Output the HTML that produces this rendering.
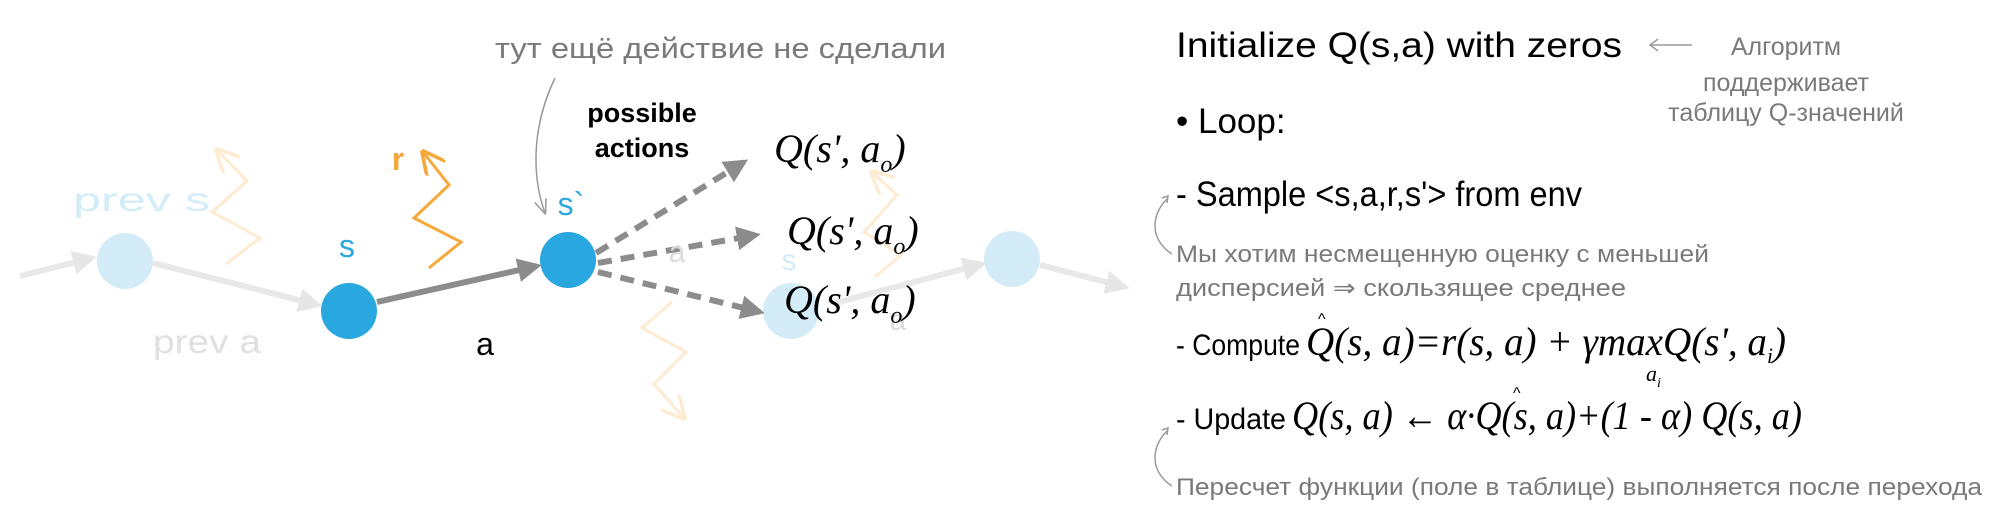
<!DOCTYPE html>
<html><head><meta charset="utf-8"><style>
html,body{margin:0;padding:0;background:#fff;}
svg{display:block;}
.sans{font-family:"Liberation Sans","DejaVu Sans",sans-serif;}
.m{font-family:"Liberation Serif",serif;font-style:italic;}
</style></head><body>
<svg width="2000" height="508" viewBox="0 0 2000 508" xmlns="http://www.w3.org/2000/svg">
<defs>
<marker id="ag" viewBox="0 0 10 10" refX="8" refY="5" markerWidth="4" markerHeight="4" orient="auto"><path d="M0,0 L10,5 L0,10 z" fill="#8c8c8c"/></marker>
<marker id="al" viewBox="0 0 10 10" refX="8" refY="5" markerWidth="4" markerHeight="4" orient="auto"><path d="M0,0 L10,5 L0,10 z" fill="#e6e6e6"/></marker>
<marker id="ao" viewBox="0 0 10 10" refX="9" refY="5" markerWidth="8" markerHeight="8" orient="auto"><path d="M0,0 L10,5 L0,10" fill="none" stroke="#f6a93b" stroke-width="1.5"/></marker>
<marker id="af" viewBox="0 0 10 10" refX="9" refY="5" markerWidth="8" markerHeight="8" orient="auto"><path d="M0,0 L10,5 L0,10" fill="none" stroke="#fdebd2" stroke-width="1.5"/></marker>
<marker id="at" viewBox="0 0 10 10" refX="9" refY="5" markerWidth="10" markerHeight="10" orient="auto"><path d="M0,1 L10,5 L0,9" fill="none" stroke="#999" stroke-width="1"/></marker>
</defs>

<g stroke="#e8e8e8" stroke-width="6" fill="none">
<line x1="20" y1="276" x2="92" y2="258" marker-end="url(#al)"/>
<line x1="153" y1="263" x2="318" y2="305" marker-end="url(#al)"/>
<line x1="835" y1="303" x2="982" y2="264" marker-end="url(#al)"/>
<line x1="1040" y1="265" x2="1125" y2="287" marker-end="url(#al)"/>
</g>

<g fill="none" stroke="#fdebd2" stroke-width="3">
<polyline points="226,264 260,238 212,212 247,181 217,150" marker-end="url(#af)"/>
<polyline points="672,302 642,328 686,352 654,384 684,418" marker-end="url(#af)"/>
<polyline points="875,277 901,255 864,232 897,195 872,172" marker-end="url(#af)"/>
</g>
<polyline points="429,268 461,242 414,218 449,185 423,152" fill="none" stroke="#f6a93b" stroke-width="3" marker-end="url(#ao)"/>

<circle cx="125" cy="261" r="28" fill="#d4ecf8"/>
<circle cx="791" cy="311" r="28" fill="#d4ecf8"/>
<circle cx="1012" cy="259" r="28" fill="#d4ecf8"/>
<circle cx="349" cy="311" r="28" fill="#29a8e0"/>
<circle cx="568" cy="260" r="28" fill="#29a8e0"/>

<line x1="377" y1="302" x2="537" y2="266" stroke="#8c8c8c" stroke-width="6" marker-end="url(#ag)"/>
<g stroke="#8c8c8c" stroke-width="6" fill="none" stroke-dasharray="14,9">
<line x1="596" y1="253" x2="744" y2="162" marker-end="url(#ag)"/>
<line x1="598" y1="263" x2="756" y2="235" marker-end="url(#ag)"/>
<line x1="598" y1="272" x2="760" y2="312" marker-end="url(#ag)"/>
</g>

<path d="M555,78 C530,130 533,180 545,213" fill="none" stroke="#999" stroke-width="1.5" marker-end="url(#at)"/>

<text class="sans" x="495" y="58" font-size="29" fill="#7a7a7a" textLength="451" lengthAdjust="spacingAndGlyphs">тут ещё действие не сделали</text>
<text class="sans" x="642" y="122" font-size="27" font-weight="bold" fill="#000" text-anchor="middle">possible</text>
<text class="sans" x="642" y="157" font-size="27" font-weight="bold" fill="#000" text-anchor="middle">actions</text>
<text class="sans" x="73" y="211" font-size="33" fill="#d4ecf8" textLength="137" lengthAdjust="spacingAndGlyphs">prev s</text>
<text class="sans" x="153" y="353" font-size="33" fill="#e0e0e0" textLength="108" lengthAdjust="spacingAndGlyphs">prev a</text>
<text class="sans" x="347" y="257" font-size="32" fill="#29a8e0" text-anchor="middle">s</text>
<text class="sans" x="571" y="215" font-size="32" fill="#29a8e0" text-anchor="middle">s`</text>
<text class="sans" x="398" y="170" font-size="32" font-weight="bold" fill="#f6a93b" text-anchor="middle">r</text>
<text class="sans" x="485" y="355" font-size="32" fill="#000" text-anchor="middle">a</text>
<text class="sans" x="677" y="262" font-size="30" fill="#dcdcdc" text-anchor="middle">a</text>
<text class="sans" x="789" y="270" font-size="30" fill="#d4ecf8" text-anchor="middle">s</text>
<text class="sans" x="898" y="330" font-size="30" fill="#dcdcdc" text-anchor="middle">a</text>

<text class="m" x="774" y="162" font-size="40" fill="#000">Q(s', a<tspan font-size="24" dy="10">o</tspan><tspan dy="-10">)</tspan></text>
<text class="m" x="787" y="244" font-size="40" fill="#000">Q(s', a<tspan font-size="24" dy="10">o</tspan><tspan dy="-10">)</tspan></text>
<text class="m" x="784" y="313" font-size="40" fill="#000">Q(s', a<tspan font-size="24" dy="10">o</tspan><tspan dy="-10">)</tspan></text>

<text class="sans" x="1176" y="57" font-size="35" fill="#000" textLength="446" lengthAdjust="spacingAndGlyphs">Initialize Q(s,a) with zeros</text>
<line x1="1692" y1="45" x2="1650" y2="45" stroke="#999" stroke-width="1.5"/>
<path d="M1658,39 L1650,45 L1658,51" fill="none" stroke="#999" stroke-width="1.5"/>
<g class="sans" font-size="25" fill="#7a7a7a" text-anchor="middle">
<text x="1786" y="55">Алгоритм</text>
<text x="1786" y="91">поддерживает</text>
<text x="1786" y="121">таблицу Q-значений</text>
</g>
<text class="sans" x="1176" y="133" font-size="35" fill="#000">• Loop:</text>
<text class="sans" x="1176" y="206" font-size="35" fill="#000" textLength="406" lengthAdjust="spacingAndGlyphs">- Sample &lt;s,a,r,s'&gt; from env</text>
<path d="M1168,198 C1150,215 1150,240 1172,254" fill="none" stroke="#999" stroke-width="1.5"/>
<path d="M1162,198 L1168,196 L1167,203" fill="none" stroke="#999" stroke-width="1.5"/>
<text class="sans" x="1176" y="262" font-size="24" fill="#7a7a7a" textLength="533" lengthAdjust="spacingAndGlyphs">Мы хотим несмещенную оценку с меньшей</text>
<text class="sans" x="1176" y="296" font-size="24" fill="#7a7a7a" textLength="450" lengthAdjust="spacingAndGlyphs">дисперсией ⇒ скользящее среднее</text>

<text class="sans" x="1176" y="355" font-size="30" fill="#000" textLength="124" lengthAdjust="spacingAndGlyphs">- Compute</text>
<text class="m" x="1306" y="355" font-size="40" fill="#000" textLength="480" lengthAdjust="spacingAndGlyphs">Q(s, a)=r(s, a) + γmaxQ(s', a<tspan font-size="22" dy="8">i</tspan><tspan dy="-8">)</tspan></text>
<text class="sans" x="1318" y="324" font-size="16" fill="#000">^</text>
<text class="m" x="1646" y="381" font-size="22" fill="#000">a<tspan font-size="14" dy="6">i</tspan></text>

<text class="sans" x="1176" y="429" font-size="30" fill="#000" textLength="110" lengthAdjust="spacingAndGlyphs">- Update</text>
<text class="m" x="1292" y="429" font-size="40" fill="#000" textLength="510" lengthAdjust="spacingAndGlyphs">Q(s, a) ← α·Q(s, a)+(1 - α) Q(s, a)</text>
<text class="sans" x="1513" y="398" font-size="16" fill="#000">^</text>
<path d="M1168,430 C1150,447 1150,472 1172,486" fill="none" stroke="#999" stroke-width="1.5"/>
<path d="M1162,430 L1168,428 L1167,435" fill="none" stroke="#999" stroke-width="1.5"/>
<text class="sans" x="1176" y="495" font-size="24" fill="#7a7a7a" textLength="806" lengthAdjust="spacingAndGlyphs">Пересчет функции (поле в таблице) выполняется после перехода</text>
</svg>
</body></html>
